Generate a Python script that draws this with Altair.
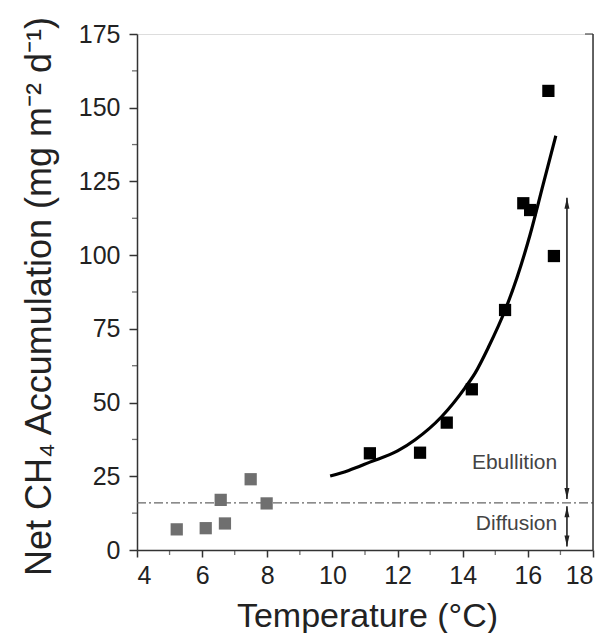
import altair as alt
import pandas as pd

# ---- data ----
low_temp = [5.22, 6.11, 6.57, 6.70, 7.49, 7.98]
low_flux = [7.0, 7.4, 17.0, 9.0, 24.0, 15.8]

high_temp = [11.15, 12.69, 13.51, 14.28, 15.30, 15.86, 16.07, 16.63, 16.80]
high_flux = [32.8, 33.0, 43.2, 54.5, 81.4, 117.6, 115.3, 155.7, 99.7]

fit_temp = [9.93, 10.5, 11.15, 12.0, 12.54, 13.35, 14.07, 14.38, 14.8, 15.30, 15.67, 16.07, 16.47, 16.86]
fit_flux = [25.1, 27.0, 29.8, 33.6, 37.4, 45.2, 55.0, 60.0, 69.0, 81.3, 92.5, 107.0, 124.0, 140.5]

threshold = 16.0
arrow_x = 17.2
ebullition_span = [119.5, 17.3]
diffusion_span = [14.8, 1.2]

label_names = ["Ebullition", "Diffusion"]
label_x = [16.9, 16.9]
label_y = [29.5, 8.8]

x_ticks = [4, 6, 8, 10, 12, 14, 16, 18]
y_ticks = [0, 25, 50, 75, 100, 125, 150, 175]
x_minor = [5, 7, 9, 11, 13, 15, 17]
y_minor = [12.5, 37.5, 62.5, 87.5, 112.5, 137.5, 162.5]

FONT = "Liberation Sans"
INK = "#222222"

xs = alt.Scale(domain=[4, 18], nice=False, zero=False)
ys = alt.Scale(domain=[0, 175], nice=False, zero=False)

xaxis = alt.Axis(values=x_ticks, title="Temperature (°C)", titleFontSize=34,
                 titleFont=FONT, titleColor=INK, titleFontWeight="normal",
                 titleX=230, titleY=76, titleAlign="center", titleBaseline="alphabetic",
                 labelFont=FONT, labelFontSize=25, labelColor=INK, labelPadding=6,
                 tickSize=7, tickColor="#333", tickWidth=1.5,
                 domainColor="#333", domainWidth=1.5, grid=False)
yaxis = alt.Axis(values=y_ticks, title="Net CH₄ Accumulation (mg m⁻² d⁻¹)", titleFontSize=36,
                 titleFont=FONT, titleColor=INK, titleFontWeight="normal",
                 titleAngle=270, titleX=-87, titleY=262, titleAlign="center",
                 titleBaseline="alphabetic",
                 labelFont=FONT, labelFontSize=25, labelColor=INK, labelPadding=9,
                 tickSize=8, tickColor="#333", tickWidth=1.5,
                 domainColor="#333", domainWidth=1.5, grid=False)

fit_df = pd.DataFrame({"t": fit_temp, "f": fit_flux})
low_df = pd.DataFrame({"t": low_temp, "f": low_flux})
high_df = pd.DataFrame({"t": high_temp, "f": high_flux})

fit = alt.Chart(fit_df).mark_line(color="black", strokeWidth=3.2, interpolate="monotone").encode(
    x=alt.X("t:Q", scale=xs, axis=xaxis),
    y=alt.Y("f:Q", scale=ys, axis=yaxis),
)

low_pts = alt.Chart(low_df).mark_point(shape="square", filled=True, size=150,
                                       color="#6f6f6f", opacity=1).encode(
    x=alt.X("t:Q", scale=xs), y=alt.Y("f:Q", scale=ys))

high_pts = alt.Chart(high_df).mark_point(shape="square", filled=True, size=150,
                                         color="black", opacity=1).encode(
    x=alt.X("t:Q", scale=xs), y=alt.Y("f:Q", scale=ys))

thr_df = pd.DataFrame({"y": [threshold], "x0": [4], "x1": [18]})
thr = alt.Chart(thr_df).mark_rule(color="#666666", strokeWidth=1.3,
                                  strokeDash=[9, 3, 2, 3]).encode(
    x=alt.X("x0:Q", scale=xs), x2="x1:Q", y=alt.Y("y:Q", scale=ys))

frame_df = pd.DataFrame({"x": [18], "y0": [0], "y1": [175]})
frame = alt.Chart(frame_df).mark_rule(color="#333", strokeWidth=1.5).encode(
    x=alt.X("x:Q", scale=xs), y=alt.Y("y0:Q", scale=ys), y2="y1:Q")
corner = alt.Chart(frame_df).mark_tick(orient="horizontal", size=8, thickness=1.5,
                                       color="#333", xOffset=-4).encode(
    x=alt.X("x:Q", scale=xs), y=alt.Y("y1:Q", scale=ys))

arr_df = pd.DataFrame({"x": [arrow_x, arrow_x],
                       "top": [ebullition_span[0], diffusion_span[0]],
                       "bot": [ebullition_span[1], diffusion_span[1]]})
arr_lines = alt.Chart(arr_df).mark_rule(color="#222", strokeWidth=1.6).encode(
    x=alt.X("x:Q", scale=xs), y=alt.Y("top:Q", scale=ys), y2="bot:Q")
head_up = alt.Chart(arr_df).mark_point(shape="M0,0L0.5,2.2L-0.5,2.2Z", filled=True, size=100,
                                       color="#222", opacity=1).encode(
    x=alt.X("x:Q", scale=xs), y=alt.Y("top:Q", scale=ys))
head_dn = alt.Chart(arr_df).mark_point(shape="M0,0L0.5,-2.2L-0.5,-2.2Z", filled=True, size=100,
                                       color="#222", opacity=1).encode(
    x=alt.X("x:Q", scale=xs), y=alt.Y("bot:Q", scale=ys))

lab_df = pd.DataFrame({"name": label_names, "x": label_x, "y": label_y})
labels = alt.Chart(lab_df).mark_text(align="right", baseline="middle", font=FONT,
                                     fontSize=21, color="#444").encode(
    x=alt.X("x:Q", scale=xs), y=alt.Y("y:Q", scale=ys), text="name:N")

ym_df = pd.DataFrame({"y": y_minor, "x": [4] * len(y_minor)})
y_minor_ticks = alt.Chart(ym_df).mark_tick(orient="horizontal", size=5, thickness=1.3,
                                           color="#333", xOffset=-2.5).encode(
    x=alt.X("x:Q", scale=xs), y=alt.Y("y:Q", scale=ys))
xm_df = pd.DataFrame({"x": x_minor, "y": [0] * len(x_minor)})
x_minor_ticks = alt.Chart(xm_df).mark_tick(orient="vertical", size=5, thickness=1.3,
                                           color="#333", yOffset=2.5).encode(
    x=alt.X("x:Q", scale=xs), y=alt.Y("y:Q", scale=ys))

chart = alt.layer(
    fit, thr, frame, corner, arr_lines, head_up, head_dn, labels,
    low_pts, high_pts, y_minor_ticks, x_minor_ticks
).properties(
    width=456, height=516,
    autosize=alt.AutoSizeParams(type="none"),
    padding={"left": 129, "top": 26, "right": 10, "bottom": 83},
).configure_view(stroke=None).configure(background="white")

chart.save("out.html", embed_options={"renderer": "svg", "actions": False})
